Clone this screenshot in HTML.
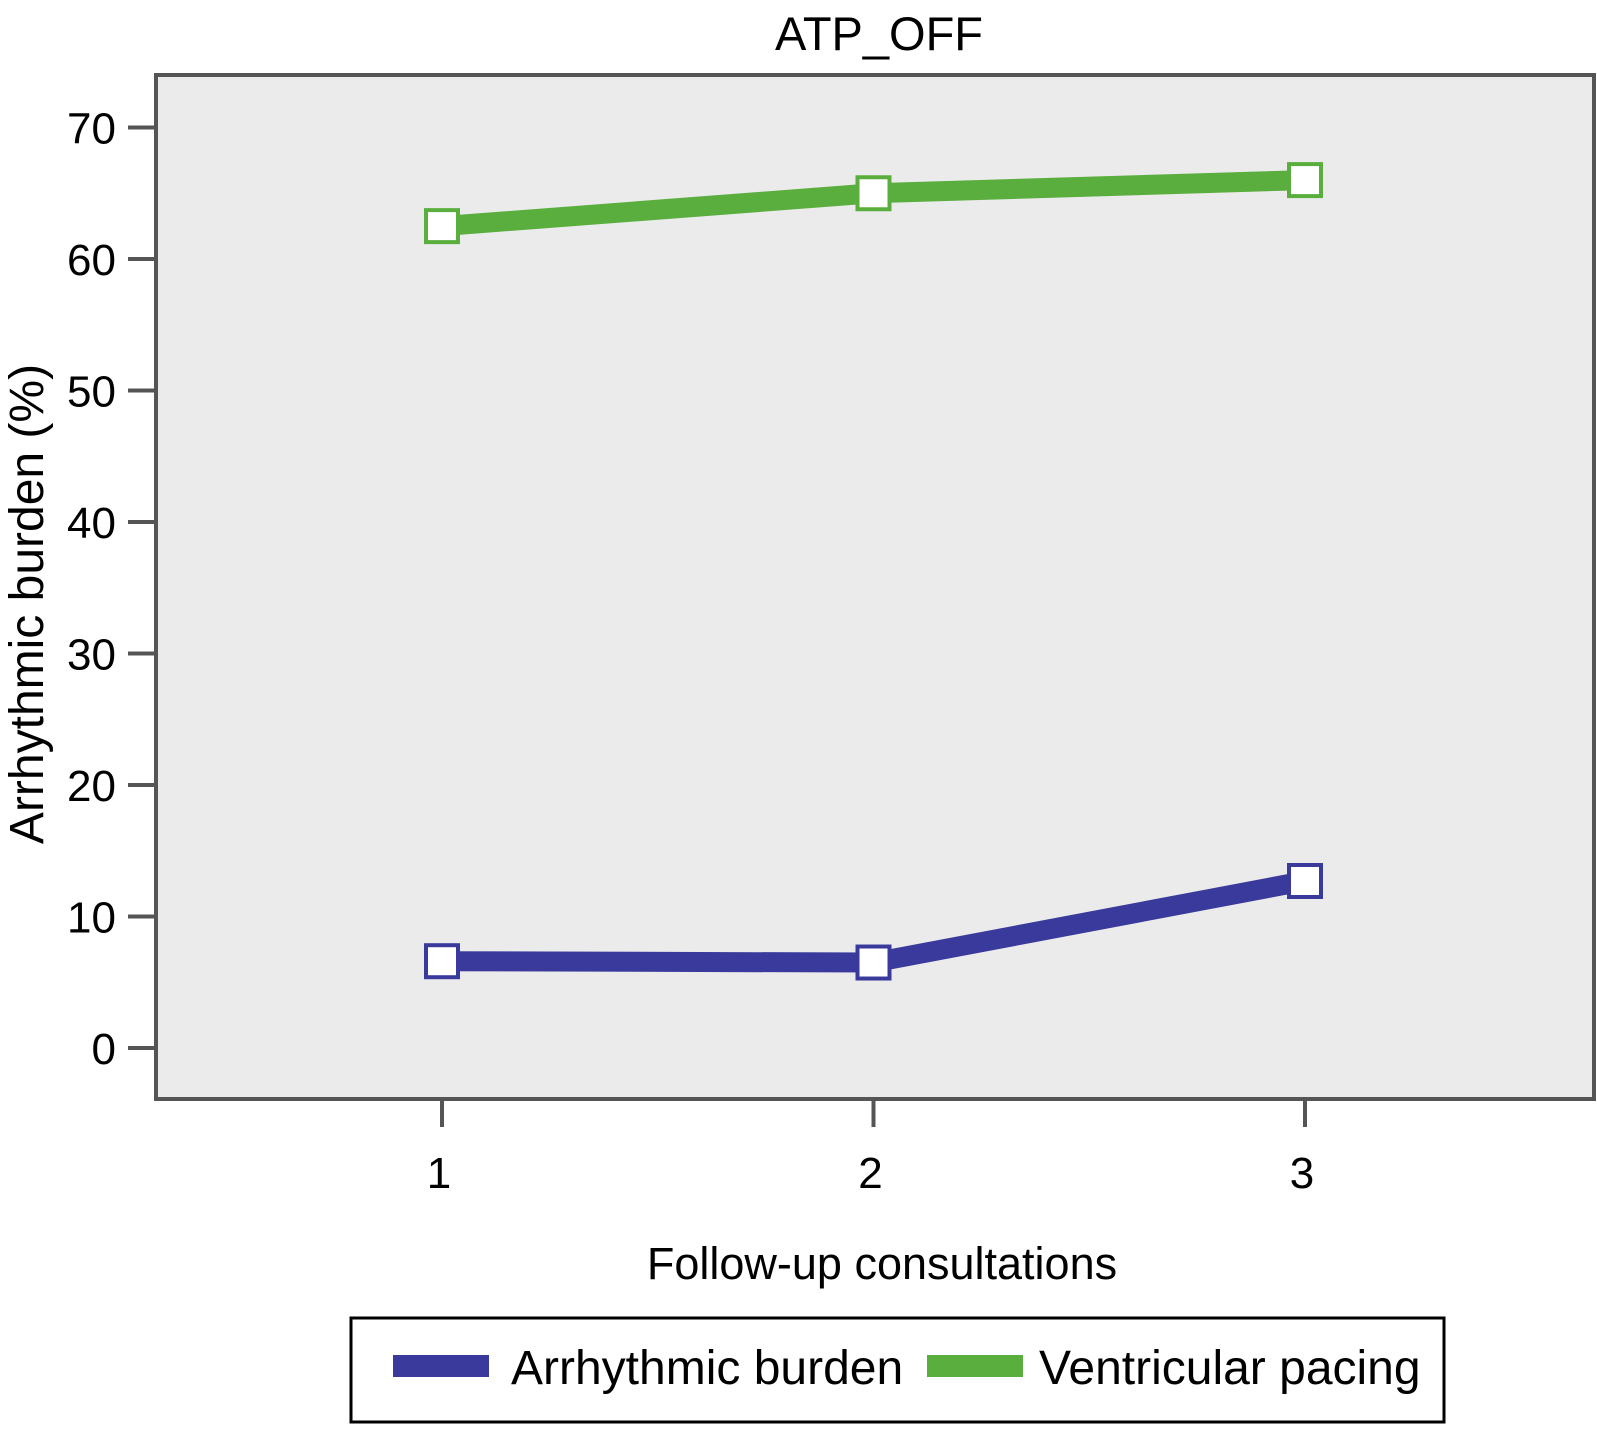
<!DOCTYPE html>
<html><head><meta charset="utf-8"><style>
body{margin:0;background:#fff;}
svg text{font-family:"Liberation Sans",Arial,sans-serif;fill:#000;}
</style></head><body>
<svg id="chart" width="1597" height="1424" xmlns="http://www.w3.org/2000/svg">
<text x="879" y="50" font-size="47" text-anchor="middle">ATP_OFF</text>
<rect x="156" y="75" width="1438" height="1024" fill="#ebebeb" stroke="#555" stroke-width="4"/>
<g id="yaxis"></g>
<g id="xaxis"></g>
<g id="series"></g>
<text transform="translate(43,604) rotate(-90)" font-size="48" text-anchor="middle">Arrhythmic burden (%)</text>
<text x="882" y="1279" font-size="45" text-anchor="middle">Follow-up consultations</text>
<g>
<rect x="351" y="1318" width="1093" height="104" fill="#fff" stroke="#000" stroke-width="3"/>
<rect x="393" y="1355" width="96" height="22" fill="#3a3a9c"/>
<text x="511" y="1384" font-size="48">Arrhythmic burden</text>
<rect x="927" y="1355" width="96" height="22" fill="#5aae3e"/>
<text x="1039" y="1384" font-size="48">Ventricular pacing</text>
</g>
</svg>
<script>
const categories = ["1","2","3"];
const arrhythmic = [6.6, 6.5, 12.7];
const ventricular = [62.5, 65.0, 66.0];
const yTicks = [0,10,20,30,40,50,60,70];
const NS="http://www.w3.org/2000/svg";
function yS(v){return 1048 - v*13.15;}
function xS(i){return 442 + i*431.5;}
function mk(tag,attrs,parent){const e=document.createElementNS(NS,tag);for(const k in attrs)e.setAttribute(k,attrs[k]);parent.appendChild(e);return e;}
const ya=document.getElementById('yaxis'), xa=document.getElementById('xaxis'), sg=document.getElementById('series');
yTicks.forEach(t=>{
  const l=mk('line',{x1:128,x2:156,y1:yS(t),y2:yS(t),stroke:'#555','stroke-width':4},ya);
  
  
  const tx=mk('text',{x:116,y:yS(t)+16,'font-size':44,'text-anchor':'end'},ya);
  tx.textContent=t;
  
  
});
categories.forEach((c,i)=>{
  const l=mk('line',{x1:xS(i),x2:xS(i),y1:1099,y2:1127,stroke:'#555','stroke-width':4},xa);
  
  
  const tx=mk('text',{x:xS(i)-3,y:1188,'font-size':44,'text-anchor':'middle'},xa);
  tx.textContent=c;
  
  
});
function drawSeries(vals,color,name){
  const pts=vals.map((v,i)=>xS(i)+','+yS(v)).join(' ');
  const pl=mk('polyline',{points:pts,fill:'none',stroke:color,'stroke-width':20,'stroke-linejoin':'round'},sg);
  
  
  vals.forEach((v,i)=>{
    const r=mk('rect',{x:xS(i)-16,y:yS(v)-16,width:32,height:32,fill:'#fff',stroke:color,'stroke-width':4},sg);
    
    
  });
}
drawSeries(ventricular,'#5aae3e','ventricular-pacing');
drawSeries(arrhythmic,'#3a3a9c','arrhythmic-burden');
</script>
</body></html>
